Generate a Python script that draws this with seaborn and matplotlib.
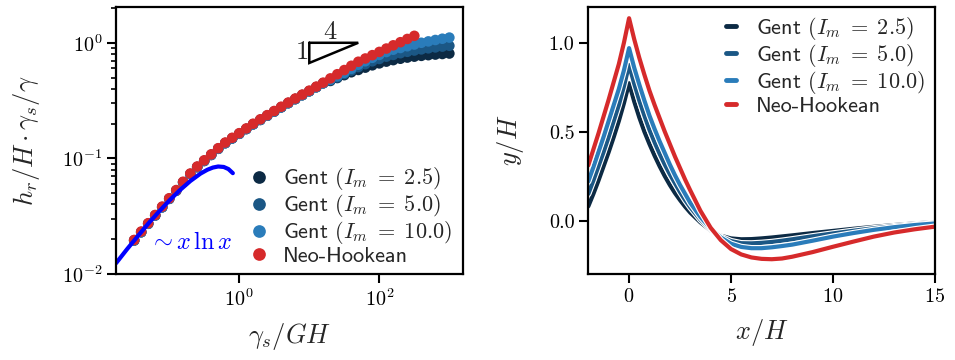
import numpy as np
import pandas as pd
import matplotlib
matplotlib.use("Agg")
import matplotlib.pyplot as plt
import matplotlib.patheffects as pe
from matplotlib.ticker import NullLocator, FixedLocator, LogLocator
import seaborn as sns

# ---------------- data ----------------
# left panel: h_r/H * gamma_s/gamma versus gamma_s/GH
gamma_x = [0.0316, 0.0398, 0.0501, 0.0631, 0.0794,
           0.1, 0.126, 0.158, 0.2, 0.251, 0.316, 0.398, 0.501, 0.631, 0.794,
           1.0, 1.26, 1.58, 2.0, 2.51, 3.16, 3.98, 5.01, 6.31, 7.94,
           10, 12.6, 15.8, 20, 25.1, 31.6, 39.8, 50.1, 63.1, 79.4,
           100, 126, 158, 200, 251, 316, 398, 501, 631, 794, 1000]

neo_hookean_h = [0.0197, 0.0233, 0.0275, 0.0324, 0.0383, 0.0452, 0.0532, 0.0628,
                 0.0740, 0.0851, 0.0962, 0.1084, 0.1225, 0.1371, 0.1507, 0.1652,
                 0.1816, 0.1995, 0.2178, 0.2366, 0.2570, 0.2799, 0.3041, 0.3296,
                 0.3565, 0.3855, 0.4178, 0.4519, 0.4920, 0.5346, 0.5808, 0.6324,
                 0.6855, 0.7311, 0.7816, 0.8337, 0.8913, 0.9506, 1.0116, 1.0789,
                 1.1482]

# the three Gent runs coincide up to gamma_s/GH ~ 16
gent_common_h = [0.0195, 0.0230, 0.0272, 0.0321, 0.0378, 0.0447, 0.0526, 0.0621,
                 0.0731, 0.0841, 0.0951, 0.1072, 0.1211, 0.1355, 0.1490, 0.1633,
                 0.1795, 0.1972, 0.2153, 0.2339, 0.2541, 0.2767, 0.3006, 0.3258,
                 0.3524, 0.3811, 0.4130, 0.4467]
gent10_tail_h = [0.4786, 0.5129, 0.5495, 0.5957, 0.6457, 0.6918, 0.7413, 0.7852,
                 0.8318, 0.8710, 0.9016, 0.9333, 0.9661, 1.0, 1.028, 1.057, 1.084, 1.109]
gent5_tail_h = [0.4732, 0.5012, 0.5370, 0.5754, 0.6166, 0.6531, 0.6918, 0.7244,
                0.7586, 0.7852, 0.8128, 0.8356, 0.8570, 0.8770, 0.8954, 0.9120,
                0.9268, 0.9419]
gent25_tail_h = [0.4677, 0.4955, 0.5248, 0.5559, 0.5821, 0.6095, 0.6383, 0.6637,
                 0.6871, 0.7079, 0.7278, 0.7447, 0.7586, 0.7709, 0.7816, 0.7907,
                 0.7998, 0.8072]

# asymptote ~ x ln x
xlnx_x = [0.0174, 0.025, 0.035, 0.05, 0.07, 0.1, 0.14, 0.2, 0.28, 0.35, 0.42,
          0.5, 0.6, 0.7, 0.81]
xlnx_y = [0.0124, 0.0164, 0.0210, 0.0272, 0.0342, 0.0431, 0.0527, 0.0637, 0.0739,
          0.0797, 0.0833, 0.0851, 0.0843, 0.0809, 0.0745]

# right panel: profiles y/H versus x/H
x_over_h = [-2.0, -1.75, -1.5, -1.25, -1.0, -0.75, -0.5, -0.25,
            0.0, 0.25, 0.5, 0.75, 1.0, 1.25, 1.5, 1.75, 2.0, 2.25, 2.5, 2.75, 3.0,
            3.5, 4.0, 4.5, 5.0, 5.5, 6.0, 6.5, 7.0, 7.5, 8.0,
            9, 10, 11, 12, 13, 14, 15]
prof_gent25 = [0.08, 0.15, 0.225, 0.305, 0.385, 0.47, 0.56, 0.66,
               0.772, 0.67, 0.58, 0.50, 0.43, 0.365, 0.305, 0.25, 0.20, 0.155, 0.115, 0.078, 0.045,
               -0.01, -0.055, -0.085, -0.10, -0.105, -0.104, -0.10, -0.095, -0.089, -0.083,
               -0.07, -0.058, -0.046, -0.035, -0.025, -0.016, -0.008]
prof_gent5 = [0.15, 0.225, 0.305, 0.385, 0.47, 0.56, 0.65, 0.755,
              0.875, 0.77, 0.675, 0.59, 0.51, 0.44, 0.375, 0.315, 0.26, 0.21, 0.16, 0.115, 0.075,
              0.005, -0.05, -0.09, -0.115, -0.127, -0.128, -0.125, -0.12, -0.113, -0.105,
              -0.088, -0.072, -0.057, -0.043, -0.031, -0.021, -0.012]
prof_gent10 = [0.22, 0.30, 0.385, 0.47, 0.56, 0.65, 0.74, 0.845,
               0.969, 0.86, 0.765, 0.675, 0.59, 0.515, 0.445, 0.38, 0.315, 0.255, 0.20, 0.15, 0.10,
               0.02, -0.045, -0.095, -0.13, -0.148, -0.155, -0.155, -0.15, -0.143, -0.135,
               -0.113, -0.09, -0.07, -0.052, -0.037, -0.025, -0.016]
prof_neo = [0.31, 0.40, 0.49, 0.585, 0.68, 0.78, 0.88, 1.0,
            1.137, 1.02, 0.915, 0.82, 0.73, 0.65, 0.575, 0.50, 0.43, 0.36, 0.295, 0.23, 0.17,
            0.055, -0.04, -0.11, -0.16, -0.19, -0.207, -0.215, -0.217, -0.213, -0.203,
            -0.177, -0.147, -0.118, -0.09, -0.067, -0.049, -0.034]

labels = [r"Gent $(I_m\;=\;2.5)$", r"Gent $(I_m\;=\;5.0)$",
          r"Gent $(I_m\;=\;10.0)$", "Neo-Hookean"]
colors = ["#0c2a44", "#1b5785", "#2a7cba", "#d62a2b"]

# ---------------- tables ----------------
gent25_h = gent_common_h + gent25_tail_h
gent5_h = gent_common_h + gent5_tail_h
gent10_h = gent_common_h + gent10_tail_h
left_df = pd.concat([
    pd.DataFrame({"x": gamma_x[:len(gent25_h)], "y": gent25_h, "model": labels[0]}),
    pd.DataFrame({"x": gamma_x[:len(gent5_h)], "y": gent5_h, "model": labels[1]}),
    pd.DataFrame({"x": gamma_x[:len(gent10_h)], "y": gent10_h, "model": labels[2]}),
    pd.DataFrame({"x": gamma_x[:len(neo_hookean_h)], "y": neo_hookean_h, "model": labels[3]}),
], ignore_index=True)
xlnx_df = pd.DataFrame({"x": xlnx_x, "y": xlnx_y})
right_df = pd.concat([
    pd.DataFrame({"x": x_over_h, "y": p, "model": lab})
    for p, lab in zip([prof_gent25, prof_gent5, prof_gent10, prof_neo], labels)
], ignore_index=True)
palette = dict(zip(labels, colors))

# ---------------- style ----------------
sns.set_theme(style="ticks")
plt.rcParams.update({
    "font.family": "serif",
    "font.serif": ["cmr10"],
    "mathtext.fontset": "cm",
    "axes.formatter.use_mathtext": True,
    "axes.linewidth": 1.6,
    "axes.edgecolor": "black",
    "xtick.color": "black", "ytick.color": "black",
    "xtick.major.size": 6.5, "ytick.major.size": 6.5,
    "xtick.major.width": 1.5, "ytick.major.width": 1.5,
    "xtick.minor.size": 3.6, "ytick.minor.size": 3.6,
    "xtick.minor.width": 1.2, "ytick.minor.width": 1.2,
    "xtick.labelsize": 14.5, "ytick.labelsize": 14.5,
    "axes.labelsize": 19,
})

fig = plt.figure(figsize=(9.55, 3.6), dpi=100)
ax1 = fig.add_axes([0.1215, 0.2389, 0.3634, 0.7417])
ax2 = fig.add_axes([0.616, 0.2389, 0.363, 0.7417])

legend_font = {"family": "cmss10", "size": 16}

# ---- left panel ----
sns.scatterplot(data=left_df, x="x", y="y", hue="model", palette=palette,
                hue_order=labels, s=58, linewidth=0, edgecolor="none",
                ax=ax1, legend=True)
sns.lineplot(data=xlnx_df, x="x", y="y", color="blue", linewidth=3.0,
             sort=False, estimator=None, ax=ax1, legend=False)
ax1.set_xscale("log")
ax1.set_yscale("log")
ax1.set_xlim(0.0174, 1570)
ax1.set_ylim(0.01, 2.04)
ax1.xaxis.set_major_locator(FixedLocator([1, 100]))
ax1.xaxis.set_minor_locator(NullLocator())
ax1.yaxis.set_major_locator(LogLocator(base=10))
ax1.yaxis.set_minor_locator(LogLocator(base=10, subs=np.arange(2, 10)))
ax1.set_xlabel(r"$\gamma_s/GH$", labelpad=8)
ax1.set_ylabel(r"$h_r/H\cdot\gamma_s/\gamma$", labelpad=14)

# slope triangle 1:4
tri_x = [10, 50, 10, 10]
tri_y = [1.0, 1.0, 0.669, 1.0]
ax1.plot(tri_x, tri_y, color="black", lw=1.8, solid_joinstyle="miter")
ax1.text(20, 1.24, r"$4$", fontsize=19, ha="center", va="center")
ax1.text(7.8, 0.835, r"$1$", fontsize=19, ha="center", va="center")
ax1.text(0.052, 0.0186, r"$\sim x\,\ln x$", color="blue", fontsize=17.5,
         ha="left", va="center")

leg1 = ax1.get_legend()
h1 = leg1.legend_handles
l1 = [t.get_text() for t in leg1.get_texts()]
ax1.legend(h1, l1, loc="lower right", bbox_to_anchor=(1.005, -0.02), frameon=False,
           prop=legend_font, handletextpad=0.45, handlelength=1.2,
           labelspacing=0.0, markerscale=1.2, borderaxespad=0.2)

# ---- right panel ----
sns.lineplot(data=right_df, x="x", y="y", hue="model", palette=palette,
             hue_order=labels, linewidth=3.0, sort=False, estimator=None,
             ax=ax2, legend=True)
for ln in ax2.lines:
    ln.set_path_effects([pe.Stroke(linewidth=4.6, foreground="white"), pe.Normal()])
ax2.set_xlim(-2, 15)
ax2.set_ylim(-0.3, 1.2)
ax2.set_xticks([0, 5, 10, 15])
ax2.set_yticks([0.0, 0.5, 1.0])
ax2.set_yticklabels(["0.0", "0.5", "1.0"])
ax2.set_xlabel(r"$x/H$", labelpad=8)
ax2.set_ylabel(r"$y/H$", labelpad=16)

leg2 = ax2.get_legend()
h2 = leg2.legend_handles
l2 = [t.get_text() for t in leg2.get_texts()]
for h in h2:
    h.set_linewidth(3.5)
ax2.legend(h2, l2, loc="upper right", bbox_to_anchor=(1.01, 1.02), frameon=False,
           prop=legend_font, handlelength=0.45, handletextpad=0.9,
           labelspacing=0.0, borderaxespad=0.2)

fig.savefig("out.png", dpi=100)
